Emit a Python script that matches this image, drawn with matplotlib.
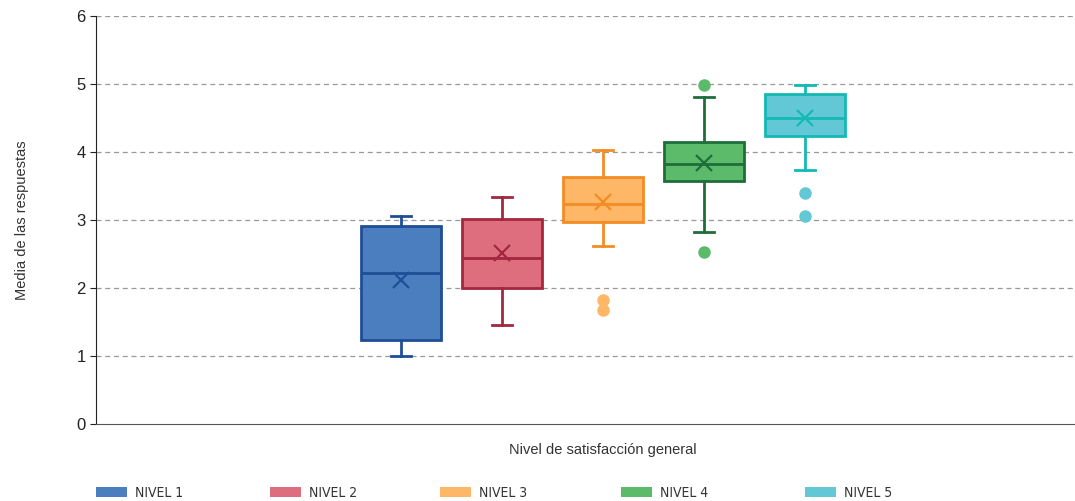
import matplotlib.pyplot as plt
from matplotlib.patches import Patch

plt.rcParams['font.family'] = ['Liberation Sans', 'DejaVu Sans']

niveles = ['NIVEL 1', 'NIVEL 2', 'NIVEL 3', 'NIVEL 4', 'NIVEL 5']
whislo = [1.0, 1.45, 2.62, 2.82, 3.73]
q1 = [1.24, 2.0, 2.97, 3.57, 4.24]
med = [2.22, 2.44, 3.23, 3.83, 4.50]
q3 = [2.91, 3.01, 3.63, 4.14, 4.85]
whishi = [3.06, 3.34, 4.03, 4.81, 4.98]
mean = [2.12, 2.51, 3.26, 3.84, 4.50]
fliers = [[], [], [1.83, 1.67], [4.99, 2.53], [3.39, 3.06]]

fill = ['#4a7ebf', '#de6e7e', '#fdb766', '#5cbb6a', '#63c8d6']
edge = ['#1f4e96', '#a3283f', '#f28c24', '#1f6e3a', '#14b9b4']
legend_x = [96, 270, 440, 621, 805]

fig = plt.figure(figsize=(10.75, 5.01), dpi=100)
ax = fig.add_axes([96/1075, 1-424/501, 1-96/1075, (424-16)/501])

for i in range(5):
    st = dict(whislo=whislo[i], q1=q1[i], med=med[i], q3=q3[i],
              whishi=whishi[i], mean=mean[i], fliers=fliers[i])
    ax.bxp([st], positions=[i+1], widths=0.79, showmeans=True, patch_artist=True,
           boxprops=dict(facecolor=fill[i], edgecolor=edge[i], linewidth=2),
           medianprops=dict(color=edge[i], linewidth=2),
           whiskerprops=dict(color=edge[i], linewidth=2),
           capprops=dict(color=edge[i], linewidth=2),
           capwidths=0.2,
           meanprops=dict(marker='x', markeredgecolor=edge[i], markersize=12,
                          markeredgewidth=1.6),
           flierprops=dict(marker='o', markerfacecolor=fill[i],
                           markeredgecolor=fill[i], markersize=8))

ax.set_xlim(-2.02, 7.67)
ax.set_ylim(0, 6)
ax.set_yticks(range(7))
ax.set_xticks([])
ax.tick_params(axis='y', labelsize=12, length=4, colors='#222222')
for y in range(1, 7):
    ax.axhline(y, color='#999999', lw=0.9, ls=(0, (4, 3)), zorder=0)
ax.spines['top'].set_visible(False)
ax.spines['right'].set_visible(False)
ax.spines['left'].set_color('#222222')
ax.spines['bottom'].set_color('#555555')

ax.set_ylabel('Media de las respuestas', fontsize=10.5, color='#333333', labelpad=34)
fig.text(603/1075, 1-450/501, 'Nivel de satisfacción general', fontsize=10.5,
         color='#333333', ha='center', va='center')

# one legend entry per level, placed like the original
for i in range(5):
    leg = fig.legend([Patch(facecolor=fill[i], edgecolor='none')], [niveles[i]],
                     loc='center left', frameon=False, borderpad=0, borderaxespad=0,
                     bbox_to_anchor=(legend_x[i]/1075, 1-493/501),
                     handlelength=2.2, handleheight=0.65, handletextpad=0.6,
                     prop=dict(family='DejaVu Sans', stretch='condensed', size=10))
    for t in leg.get_texts():
        t.set_color('#333333')

fig.savefig('out.png', dpi=100)
